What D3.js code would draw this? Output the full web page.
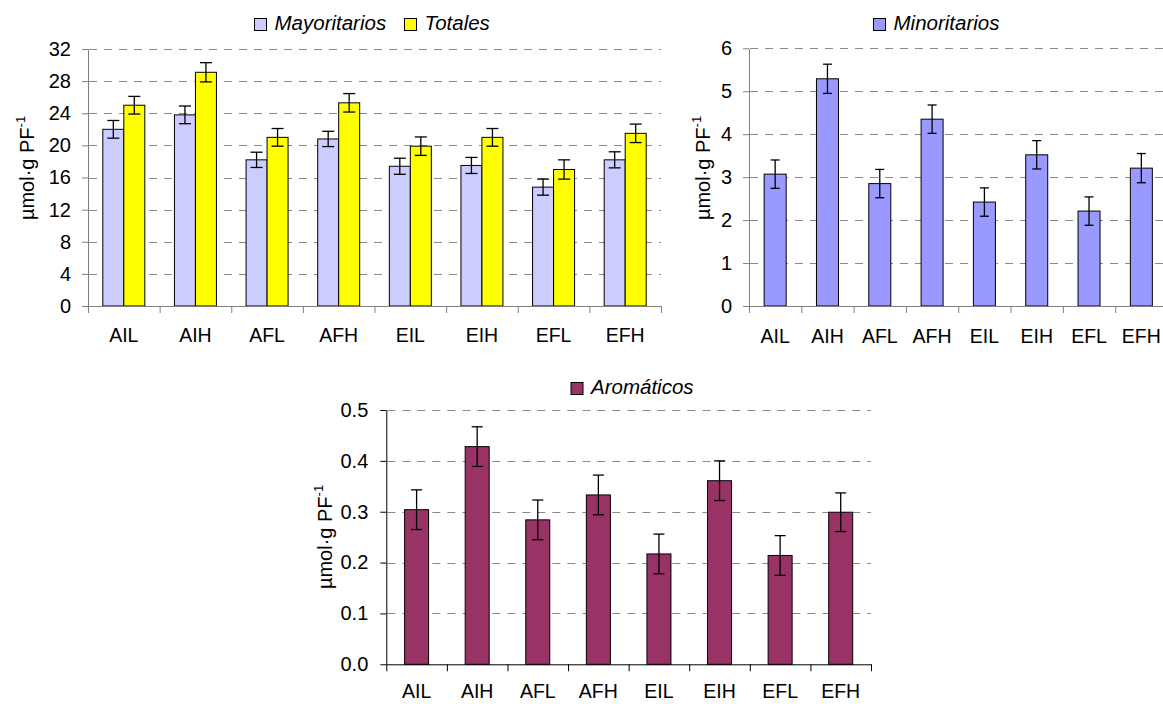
<!DOCTYPE html>
<html><head><meta charset="utf-8">
<script src="https://cdn.jsdelivr.net/npm/d3@7"></script>
<style>
body{margin:0;background:#fff;}
text{font-family:"Liberation Sans",Arial,sans-serif;}
</style></head>
<body><svg id="c" width="1163" height="704"></svg>
<script>
const categories = ["AIL","AIH","AFL","AFH","EIL","EIH","EFL","EFH"];
const mayoritarios = [22.0, 23.8, 18.2, 20.8, 17.4, 17.5, 14.8, 18.2];
const mayoritariosErr = [1.1, 1.1, 0.95, 0.95, 1.0, 1.0, 1.0, 1.0];
const totales = [25.0, 29.1, 21.0, 25.3, 19.9, 21.0, 17.0, 21.5];
const totalesErr = [1.1, 1.2, 1.1, 1.15, 1.15, 1.1, 1.2, 1.15];
const minoritarios = [3.07, 5.29, 2.85, 4.35, 2.42, 3.52, 2.21, 3.21];
const minoritariosErr = [0.33, 0.34, 0.33, 0.33, 0.33, 0.33, 0.33, 0.34];
const aromaticos = [0.304, 0.428, 0.284, 0.333, 0.217, 0.361, 0.214, 0.299];
const aromaticosErr = [0.039, 0.039, 0.039, 0.039, 0.039, 0.039, 0.039, 0.038];
const ticksTL = [0,4,8,12,16,20,24,28,32];
const ticksTR = [0,1,2,3,4,5,6];
const ticksB = [0,0.1,0.2,0.3,0.4,0.5];

const svg = d3.select("#c");
const FF = '"Liberation Sans",Arial,sans-serif';

function drawChart(o){
  const g = svg.append("g");
  const y = d3.scaleLinear().domain([o.ticks[0], o.ticks[o.ticks.length-1]]).range([o.y0, o.y1]);
  const xb = d3.scaleBand().domain(categories).range([o.x0, o.x1]);
  const xl = d3.scaleLinear().domain([0, categories.length]).range([o.x0, o.x1]);
  // gridlines
  g.append("g").selectAll("line").data(o.ticks.slice(1)).join("line")
    .attr("x1", o.x0+1).attr("x2", o.x1)
    .attr("y1", d=>Math.round(y(d))+0.5).attr("y2", d=>Math.round(y(d))+0.5)
    .attr("stroke", "#8a8a8a").attr("stroke-width",1).attr("stroke-dasharray","8,7");
  // bars
  const n = o.series.length;
  const groupW = o.barW*n;
  o.series.forEach((s, si)=>{
    const bx = c => xb(c) + xb.bandwidth()/2 - groupW/2 + si*o.barW;
    g.append("g").selectAll("rect").data(categories).join("rect")
      .attr("x", c=>bx(c)).attr("width", o.barW)
      .attr("y", (c,i)=>y(s.values[i])).attr("height",(c,i)=>y(0)-y(s.values[i]))
      .attr("fill", s.color).attr("stroke","#000").attr("stroke-width",1);
    const eb = g.append("g").attr("stroke","#000").attr("stroke-width",1.3);
    categories.forEach((c,i)=>{
      const cx = bx(c)+o.barW/2;
      const v = s.values[i], e = s.err[i];
      eb.append("line").attr("x1",cx).attr("x2",cx).attr("y1",y(v+e)).attr("y2",y(v-e));
      eb.append("line").attr("x1",cx-o.cap/2).attr("x2",cx+o.cap/2).attr("y1",y(v+e)).attr("y2",y(v+e));
      eb.append("line").attr("x1",cx-o.cap/2).attr("x2",cx+o.cap/2).attr("y1",y(v-e)).attr("y2",y(v-e));
    });
  });
  // y axis
  const ya = g.append("g").attr("transform",`translate(${o.x0},0)`)
    .call(d3.axisLeft(y).tickValues(o.ticks).tickSize(6).tickSizeOuter(0).tickPadding(o.tickPad).tickFormat(o.fmt));
  ya.selectAll("path,line").attr("stroke", o.axisColor);
  ya.selectAll("text").attr("font-size", 20).attr("fill","#000").attr("font-family",FF);
  // x axis ticks at boundaries
  const xa = g.append("g").attr("transform",`translate(0,${o.y0})`)
    .call(d3.axisBottom(xl).tickValues(d3.range(categories.length+1)).tickSize(7).tickSizeOuter(0).tickFormat(""));
  xa.selectAll("path,line").attr("stroke", o.axisColor);
  // x labels
  const xlab = g.append("g").attr("transform",`translate(0,${o.y0})`)
    .call(d3.axisBottom(xb).tickSize(0).tickPadding(o.labPad));
  xlab.select("path").remove();
  xlab.selectAll("text").attr("font-size", 19.5).attr("fill","#000").attr("font-family",FF);
  // y title
  const t = g.append("text").attr("transform",`translate(${o.titleX},${o.titleY}) rotate(-90)`)
    .attr("text-anchor","middle").attr("font-size",20).attr("fill","#000");
  t.append("tspan").text("µmol·g PF");
  t.append("tspan").attr("dy",-9).attr("font-size",13).text("-1");
  // legend
  o.legend.forEach(l=>{
    g.append("rect").attr("x",l.x).attr("y",l.y).attr("width",12).attr("height",12)
      .attr("fill",l.color).attr("stroke","#000").attr("stroke-width",1);
    g.append("text").attr("x",l.x+20).attr("y",l.y+11.5).attr("font-size",20.5)
      .attr("font-style","italic").attr("fill","#000").text(l.label);
  });
}

drawChart({
  x0:88, x1:661, y0:306, y1:49, ticks:ticksTL, fmt:d3.format("d"),
  barW:21, cap:12, axisColor:"#808080", labPad:22, tickPad:11, titleX:34, titleY:168,
  series:[{values:mayoritarios, err:mayoritariosErr, color:"#CCCCFF"},
          {values:totales, err:totalesErr, color:"#FFFF00"}],
  legend:[{x:254.5,y:18.5,color:"#CCCCFF",label:"Mayoritarios"},
          {x:404.5,y:18.5,color:"#FFFF00",label:"Totales"}]
});
drawChart({
  x0:749, x1:1167.5, y0:306, y1:48.3, ticks:ticksTR, fmt:d3.format("d"),
  barW:22, cap:9, axisColor:"#808080", labPad:23, tickPad:11, titleX:710, titleY:168,
  series:[{values:minoritarios, err:minoritariosErr, color:"#9999FF"}],
  legend:[{x:873.5,y:18.5,color:"#9999FF",label:"Minoritarios"}]
});
drawChart({
  x0:386.3, x1:871, y0:664.3, y1:410, ticks:ticksB, fmt:d3.format(".1f"),
  barW:24, cap:11, axisColor:"#000", labPad:20, tickPad:12, titleX:332, titleY:537,
  series:[{values:aromaticos, err:aromaticosErr, color:"#993366"}],
  legend:[{x:571,y:382.5,color:"#993366",label:"Aromáticos"}]
});
</script></body></html>
